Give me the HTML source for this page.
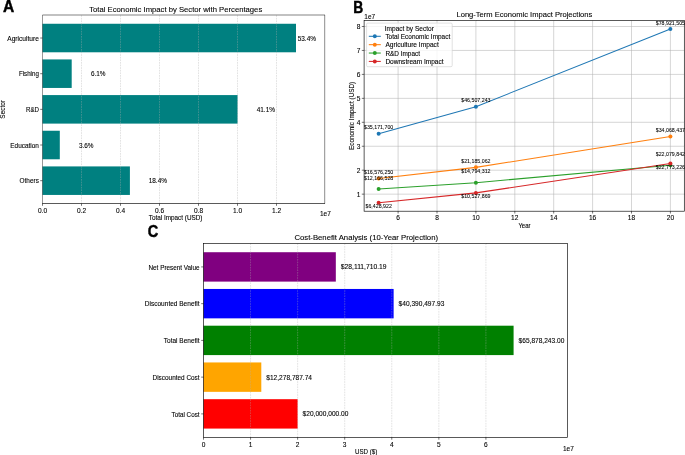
<!DOCTYPE html>
<html><head><meta charset="utf-8"><title>Economic Impact Analysis</title>
<style>
html,body{margin:0;padding:0;background:#fff;width:685px;height:455px;overflow:hidden;}
svg{display:block;font-family:"Liberation Sans", sans-serif;}
text{stroke:#000;stroke-width:0.1px;}
text.L{stroke-width:0.45px;}
text.s{stroke-width:0.06px;}
</style></head>
<body>
<svg width="685" height="455" viewBox="0 0 685 455">
<defs><filter id="bl" x="0" y="0" width="100%" height="100%"><feGaussianBlur stdDeviation="0.3"/></filter></defs>
<rect x="0" y="0" width="685" height="455" fill="#fff"/>
<g filter="url(#bl)">
<rect x="42.50" y="23.76" width="253.50" height="28.53" fill="#008080"/>
<rect x="42.50" y="59.42" width="29.20" height="28.53" fill="#008080"/>
<rect x="42.50" y="95.08" width="195.10" height="28.53" fill="#008080"/>
<rect x="42.50" y="130.75" width="17.30" height="28.53" fill="#008080"/>
<rect x="42.50" y="166.41" width="87.40" height="28.53" fill="#008080"/>
<line x1="81.50" y1="15.20" x2="81.50" y2="203.50" stroke="#b0b0b0" stroke-width="0.5" stroke-dasharray="1.7 0.9" stroke-opacity="0.7"/>
<line x1="120.50" y1="15.20" x2="120.50" y2="203.50" stroke="#b0b0b0" stroke-width="0.5" stroke-dasharray="1.7 0.9" stroke-opacity="0.7"/>
<line x1="159.50" y1="15.20" x2="159.50" y2="203.50" stroke="#b0b0b0" stroke-width="0.5" stroke-dasharray="1.7 0.9" stroke-opacity="0.7"/>
<line x1="198.50" y1="15.20" x2="198.50" y2="203.50" stroke="#b0b0b0" stroke-width="0.5" stroke-dasharray="1.7 0.9" stroke-opacity="0.7"/>
<line x1="237.50" y1="15.20" x2="237.50" y2="203.50" stroke="#b0b0b0" stroke-width="0.5" stroke-dasharray="1.7 0.9" stroke-opacity="0.7"/>
<line x1="276.50" y1="15.20" x2="276.50" y2="203.50" stroke="#b0b0b0" stroke-width="0.5" stroke-dasharray="1.7 0.9" stroke-opacity="0.7"/>
<line x1="42.50" y1="15.00" x2="325.00" y2="15.00" stroke="#000" stroke-width="0.9" stroke-opacity="0.55"/>
<line x1="42.50" y1="15.00" x2="42.50" y2="203.50" stroke="#000" stroke-width="0.9" stroke-opacity="0.45"/>
<line x1="324.70" y1="15.00" x2="324.70" y2="203.50" stroke="#000" stroke-width="0.9" stroke-opacity="0.5"/>
<line x1="42.20" y1="203.50" x2="325.00" y2="203.50" stroke="#000" stroke-width="0.65"/>
<line x1="40.20" y1="38.02" x2="42.50" y2="38.02" stroke="#000" stroke-width="0.55"/>
<text x="38.90" y="41.00" font-size="6.383" text-anchor="end" fill="#000" textLength="31.62" lengthAdjust="spacingAndGlyphs">Agriculture</text>
<line x1="40.20" y1="73.69" x2="42.50" y2="73.69" stroke="#000" stroke-width="0.55"/>
<text x="38.90" y="76.00" font-size="6.383" text-anchor="end" fill="#000" textLength="20.02" lengthAdjust="spacingAndGlyphs">Fishing</text>
<line x1="40.20" y1="109.35" x2="42.50" y2="109.35" stroke="#000" stroke-width="0.55"/>
<text x="38.90" y="112.00" font-size="6.383" text-anchor="end" fill="#000" textLength="12.91" lengthAdjust="spacingAndGlyphs">R&amp;D</text>
<line x1="40.20" y1="145.01" x2="42.50" y2="145.01" stroke="#000" stroke-width="0.55"/>
<text x="38.90" y="148.00" font-size="6.383" text-anchor="end" fill="#000" textLength="28.63" lengthAdjust="spacingAndGlyphs">Education</text>
<line x1="40.20" y1="180.68" x2="42.50" y2="180.68" stroke="#000" stroke-width="0.55"/>
<text x="38.90" y="183.00" font-size="6.383" text-anchor="end" fill="#000" textLength="19.32" lengthAdjust="spacingAndGlyphs">Others</text>
<line x1="42.50" y1="203.50" x2="42.50" y2="205.80" stroke="#000" stroke-width="0.55"/>
<text x="42.50" y="213.00" font-size="6.383" text-anchor="middle" fill="#000" textLength="9.14" lengthAdjust="spacingAndGlyphs">0.0</text>
<line x1="81.50" y1="203.50" x2="81.50" y2="205.80" stroke="#000" stroke-width="0.55"/>
<text x="81.50" y="213.00" font-size="6.383" text-anchor="middle" fill="#000" textLength="9.14" lengthAdjust="spacingAndGlyphs">0.2</text>
<line x1="120.50" y1="203.50" x2="120.50" y2="205.80" stroke="#000" stroke-width="0.55"/>
<text x="120.50" y="213.00" font-size="6.383" text-anchor="middle" fill="#000" textLength="9.14" lengthAdjust="spacingAndGlyphs">0.4</text>
<line x1="159.50" y1="203.50" x2="159.50" y2="205.80" stroke="#000" stroke-width="0.55"/>
<text x="159.50" y="213.00" font-size="6.383" text-anchor="middle" fill="#000" textLength="9.14" lengthAdjust="spacingAndGlyphs">0.6</text>
<line x1="198.50" y1="203.50" x2="198.50" y2="205.80" stroke="#000" stroke-width="0.55"/>
<text x="198.50" y="213.00" font-size="6.383" text-anchor="middle" fill="#000" textLength="9.14" lengthAdjust="spacingAndGlyphs">0.8</text>
<line x1="237.50" y1="203.50" x2="237.50" y2="205.80" stroke="#000" stroke-width="0.55"/>
<text x="237.50" y="213.00" font-size="6.383" text-anchor="middle" fill="#000" textLength="9.14" lengthAdjust="spacingAndGlyphs">1.0</text>
<line x1="276.50" y1="203.50" x2="276.50" y2="205.80" stroke="#000" stroke-width="0.55"/>
<text x="276.50" y="213.00" font-size="6.383" text-anchor="middle" fill="#000" textLength="9.14" lengthAdjust="spacingAndGlyphs">1.2</text>
<text x="320.00" y="216.00" font-size="6.383" text-anchor="start" fill="#000" textLength="10.85" lengthAdjust="spacingAndGlyphs">1e7</text>
<text x="175.60" y="220.00" font-size="6.383" text-anchor="middle" fill="#000" textLength="53.74" lengthAdjust="spacingAndGlyphs">Total Impact (USD)</text>
<text x="3.00" y="111.69" font-size="6.383" text-anchor="middle" fill="#000" textLength="18.49" lengthAdjust="spacingAndGlyphs" transform="rotate(-90 3.00 109.40)">Sector</text>
<text x="175.75" y="12.00" font-size="7.604" text-anchor="middle" fill="#000" textLength="172.98" lengthAdjust="spacingAndGlyphs">Total Economic Impact by Sector with Percentages</text>
<text x="297.70" y="41.00" font-size="6.383" text-anchor="start" fill="#000" textLength="18.27" lengthAdjust="spacingAndGlyphs">53.4%</text>
<text x="90.90" y="76.00" font-size="6.383" text-anchor="start" fill="#000" textLength="14.61" lengthAdjust="spacingAndGlyphs">6.1%</text>
<text x="256.70" y="112.00" font-size="6.383" text-anchor="start" fill="#000" textLength="18.27" lengthAdjust="spacingAndGlyphs">41.1%</text>
<text x="78.90" y="148.00" font-size="6.383" text-anchor="start" fill="#000" textLength="14.61" lengthAdjust="spacingAndGlyphs">3.6%</text>
<text x="148.70" y="183.00" font-size="6.383" text-anchor="start" fill="#000" textLength="18.27" lengthAdjust="spacingAndGlyphs">18.4%</text>
<text x="3.00" y="12.33" font-size="16.0" text-anchor="start" fill="#000" textLength="11.20" lengthAdjust="spacingAndGlyphs" font-weight="bold" class="L">A</text>
<line x1="398.10" y1="20.60" x2="398.10" y2="211.20" stroke="#b0b0b0" stroke-width="0.7" stroke-opacity="0.75"/>
<line x1="437.00" y1="20.60" x2="437.00" y2="211.20" stroke="#b0b0b0" stroke-width="0.7" stroke-opacity="0.75"/>
<line x1="475.90" y1="20.60" x2="475.90" y2="211.20" stroke="#b0b0b0" stroke-width="0.7" stroke-opacity="0.75"/>
<line x1="514.80" y1="20.60" x2="514.80" y2="211.20" stroke="#b0b0b0" stroke-width="0.7" stroke-opacity="0.75"/>
<line x1="553.70" y1="20.60" x2="553.70" y2="211.20" stroke="#b0b0b0" stroke-width="0.7" stroke-opacity="0.75"/>
<line x1="592.60" y1="20.60" x2="592.60" y2="211.20" stroke="#b0b0b0" stroke-width="0.7" stroke-opacity="0.75"/>
<line x1="631.50" y1="20.60" x2="631.50" y2="211.20" stroke="#b0b0b0" stroke-width="0.7" stroke-opacity="0.75"/>
<line x1="670.40" y1="20.60" x2="670.40" y2="211.20" stroke="#b0b0b0" stroke-width="0.7" stroke-opacity="0.75"/>
<line x1="364.10" y1="194.15" x2="684.30" y2="194.15" stroke="#b0b0b0" stroke-width="0.7" stroke-opacity="0.75"/>
<line x1="364.10" y1="170.20" x2="684.30" y2="170.20" stroke="#b0b0b0" stroke-width="0.7" stroke-opacity="0.75"/>
<line x1="364.10" y1="146.25" x2="684.30" y2="146.25" stroke="#b0b0b0" stroke-width="0.7" stroke-opacity="0.75"/>
<line x1="364.10" y1="122.30" x2="684.30" y2="122.30" stroke="#b0b0b0" stroke-width="0.7" stroke-opacity="0.75"/>
<line x1="364.10" y1="98.35" x2="684.30" y2="98.35" stroke="#b0b0b0" stroke-width="0.7" stroke-opacity="0.75"/>
<line x1="364.10" y1="74.40" x2="684.30" y2="74.40" stroke="#b0b0b0" stroke-width="0.7" stroke-opacity="0.75"/>
<line x1="364.10" y1="50.45" x2="684.30" y2="50.45" stroke="#b0b0b0" stroke-width="0.7" stroke-opacity="0.75"/>
<line x1="364.10" y1="26.50" x2="684.30" y2="26.50" stroke="#b0b0b0" stroke-width="0.7" stroke-opacity="0.75"/>
<path d="M378.65,133.86 L475.90,106.72 L670.40,29.08" fill="none" stroke="#1f77b4" stroke-width="1.05" stroke-linejoin="round"/>
<circle cx="378.65" cy="133.86" r="2.0" fill="#1f77b4"/>
<circle cx="475.90" cy="106.72" r="2.0" fill="#1f77b4"/>
<circle cx="670.40" cy="29.08" r="2.0" fill="#1f77b4"/>
<path d="M378.65,178.40 L475.90,167.36 L670.40,136.51" fill="none" stroke="#ff7f0e" stroke-width="1.05" stroke-linejoin="round"/>
<circle cx="378.65" cy="178.40" r="2.0" fill="#ff7f0e"/>
<circle cx="475.90" cy="167.36" r="2.0" fill="#ff7f0e"/>
<circle cx="670.40" cy="136.51" r="2.0" fill="#ff7f0e"/>
<path d="M378.65,188.96 L475.90,182.67 L670.40,165.22" fill="none" stroke="#2ca02c" stroke-width="1.05" stroke-linejoin="round"/>
<circle cx="378.65" cy="188.96" r="2.0" fill="#2ca02c"/>
<circle cx="475.90" cy="182.67" r="2.0" fill="#2ca02c"/>
<circle cx="670.40" cy="165.22" r="2.0" fill="#2ca02c"/>
<path d="M378.65,202.70 L475.90,192.89 L670.40,163.56" fill="none" stroke="#d62728" stroke-width="1.05" stroke-linejoin="round"/>
<circle cx="378.65" cy="202.70" r="2.0" fill="#d62728"/>
<circle cx="475.90" cy="192.89" r="2.0" fill="#d62728"/>
<circle cx="670.40" cy="163.56" r="2.0" fill="#d62728"/>
<rect x="364.10" y="20.60" width="320.20" height="190.60" fill="none" stroke="#000" stroke-width="0.65"/>
<line x1="398.10" y1="211.20" x2="398.10" y2="213.50" stroke="#000" stroke-width="0.55"/>
<text x="398.10" y="220.00" font-size="6.383" text-anchor="middle" fill="#000" textLength="3.66" lengthAdjust="spacingAndGlyphs">6</text>
<line x1="437.00" y1="211.20" x2="437.00" y2="213.50" stroke="#000" stroke-width="0.55"/>
<text x="437.00" y="220.00" font-size="6.383" text-anchor="middle" fill="#000" textLength="3.66" lengthAdjust="spacingAndGlyphs">8</text>
<line x1="475.90" y1="211.20" x2="475.90" y2="213.50" stroke="#000" stroke-width="0.55"/>
<text x="475.90" y="220.00" font-size="6.383" text-anchor="middle" fill="#000" textLength="7.32" lengthAdjust="spacingAndGlyphs">10</text>
<line x1="514.80" y1="211.20" x2="514.80" y2="213.50" stroke="#000" stroke-width="0.55"/>
<text x="514.80" y="220.00" font-size="6.383" text-anchor="middle" fill="#000" textLength="7.32" lengthAdjust="spacingAndGlyphs">12</text>
<line x1="553.70" y1="211.20" x2="553.70" y2="213.50" stroke="#000" stroke-width="0.55"/>
<text x="553.70" y="220.00" font-size="6.383" text-anchor="middle" fill="#000" textLength="7.32" lengthAdjust="spacingAndGlyphs">14</text>
<line x1="592.60" y1="211.20" x2="592.60" y2="213.50" stroke="#000" stroke-width="0.55"/>
<text x="592.60" y="220.00" font-size="6.383" text-anchor="middle" fill="#000" textLength="7.32" lengthAdjust="spacingAndGlyphs">16</text>
<line x1="631.50" y1="211.20" x2="631.50" y2="213.50" stroke="#000" stroke-width="0.55"/>
<text x="631.50" y="220.00" font-size="6.383" text-anchor="middle" fill="#000" textLength="7.32" lengthAdjust="spacingAndGlyphs">18</text>
<line x1="670.40" y1="211.20" x2="670.40" y2="213.50" stroke="#000" stroke-width="0.55"/>
<text x="670.40" y="220.00" font-size="6.383" text-anchor="middle" fill="#000" textLength="7.32" lengthAdjust="spacingAndGlyphs">20</text>
<line x1="361.80" y1="194.15" x2="364.10" y2="194.15" stroke="#000" stroke-width="0.55"/>
<text x="360.50" y="197.00" font-size="6.383" text-anchor="end" fill="#000" textLength="3.66" lengthAdjust="spacingAndGlyphs">1</text>
<line x1="361.80" y1="170.20" x2="364.10" y2="170.20" stroke="#000" stroke-width="0.55"/>
<text x="360.50" y="173.00" font-size="6.383" text-anchor="end" fill="#000" textLength="3.66" lengthAdjust="spacingAndGlyphs">2</text>
<line x1="361.80" y1="146.25" x2="364.10" y2="146.25" stroke="#000" stroke-width="0.55"/>
<text x="360.50" y="149.00" font-size="6.383" text-anchor="end" fill="#000" textLength="3.66" lengthAdjust="spacingAndGlyphs">3</text>
<line x1="361.80" y1="122.30" x2="364.10" y2="122.30" stroke="#000" stroke-width="0.55"/>
<text x="360.50" y="125.00" font-size="6.383" text-anchor="end" fill="#000" textLength="3.66" lengthAdjust="spacingAndGlyphs">4</text>
<line x1="361.80" y1="98.35" x2="364.10" y2="98.35" stroke="#000" stroke-width="0.55"/>
<text x="360.50" y="101.00" font-size="6.383" text-anchor="end" fill="#000" textLength="3.66" lengthAdjust="spacingAndGlyphs">5</text>
<line x1="361.80" y1="74.40" x2="364.10" y2="74.40" stroke="#000" stroke-width="0.55"/>
<text x="360.50" y="77.00" font-size="6.383" text-anchor="end" fill="#000" textLength="3.66" lengthAdjust="spacingAndGlyphs">6</text>
<line x1="361.80" y1="50.45" x2="364.10" y2="50.45" stroke="#000" stroke-width="0.55"/>
<text x="360.50" y="53.00" font-size="6.383" text-anchor="end" fill="#000" textLength="3.66" lengthAdjust="spacingAndGlyphs">7</text>
<line x1="361.80" y1="26.50" x2="364.10" y2="26.50" stroke="#000" stroke-width="0.55"/>
<text x="360.50" y="29.00" font-size="6.383" text-anchor="end" fill="#000" textLength="3.66" lengthAdjust="spacingAndGlyphs">8</text>
<text x="364.30" y="19.00" font-size="6.383" text-anchor="start" fill="#000" textLength="10.85" lengthAdjust="spacingAndGlyphs">1e7</text>
<text x="524.50" y="228.00" font-size="6.383" text-anchor="middle" fill="#000" textLength="12.17" lengthAdjust="spacingAndGlyphs">Year</text>
<text x="524.40" y="17.00" font-size="7.604" text-anchor="middle" fill="#000" textLength="135.85" lengthAdjust="spacingAndGlyphs">Long-Term Economic Impact Projections</text>
<text x="351.50" y="118.19" font-size="6.383" text-anchor="middle" fill="#000" textLength="68.15" lengthAdjust="spacingAndGlyphs" transform="rotate(-90 351.50 115.90)">Economic Impact (USD)</text>
<text x="378.65" y="129.00" font-size="5.106" text-anchor="middle" fill="#000" textLength="29.27" lengthAdjust="spacingAndGlyphs" class="s">$35,171,700</text>
<text x="475.90" y="102.00" font-size="5.106" text-anchor="middle" fill="#000" textLength="29.27" lengthAdjust="spacingAndGlyphs" class="s">$46,507,243</text>
<text x="670.40" y="25.00" font-size="5.106" text-anchor="middle" fill="#000" textLength="29.27" lengthAdjust="spacingAndGlyphs" class="s">$78,921,505</text>
<text x="378.65" y="174.00" font-size="5.106" text-anchor="middle" fill="#000" textLength="29.27" lengthAdjust="spacingAndGlyphs" class="s">$16,576,250</text>
<text x="475.90" y="163.00" font-size="5.106" text-anchor="middle" fill="#000" textLength="29.27" lengthAdjust="spacingAndGlyphs" class="s">$21,185,062</text>
<text x="670.40" y="132.00" font-size="5.106" text-anchor="middle" fill="#000" textLength="29.27" lengthAdjust="spacingAndGlyphs" class="s">$34,068,437</text>
<text x="378.65" y="180.00" font-size="5.106" text-anchor="middle" fill="#000" textLength="29.27" lengthAdjust="spacingAndGlyphs" class="s">$12,166,528</text>
<text x="475.90" y="173.00" font-size="5.106" text-anchor="middle" fill="#000" textLength="29.27" lengthAdjust="spacingAndGlyphs" class="s">$14,794,312</text>
<text x="670.40" y="156.00" font-size="5.106" text-anchor="middle" fill="#000" textLength="29.27" lengthAdjust="spacingAndGlyphs" class="s">$22,079,842</text>
<text x="378.65" y="208.00" font-size="5.106" text-anchor="middle" fill="#000" textLength="26.34" lengthAdjust="spacingAndGlyphs" class="s">$6,428,922</text>
<text x="475.90" y="198.00" font-size="5.106" text-anchor="middle" fill="#000" textLength="29.27" lengthAdjust="spacingAndGlyphs" class="s">$10,527,869</text>
<text x="670.40" y="169.00" font-size="5.106" text-anchor="middle" fill="#000" textLength="29.27" lengthAdjust="spacingAndGlyphs" class="s">$22,773,226</text>
<rect x="366.6" y="23.1" width="85.60" height="43.60" rx="1.2" fill="#fff" fill-opacity="0.8" stroke="#cccccc" stroke-width="0.6"/>
<text x="409.30" y="31.00" font-size="6.383" text-anchor="middle" fill="#000" textLength="49.08" lengthAdjust="spacingAndGlyphs">Impact by Sector</text>
<line x1="368.80" y1="36.30" x2="380.80" y2="36.30" stroke="#1f77b4" stroke-width="1.05"/>
<circle cx="374.8" cy="36.30" r="2.0" fill="#1f77b4"/>
<text x="385.40" y="39.00" font-size="6.383" text-anchor="start" fill="#000" textLength="64.81" lengthAdjust="spacingAndGlyphs">Total Economic Impact</text>
<line x1="368.80" y1="44.67" x2="380.80" y2="44.67" stroke="#ff7f0e" stroke-width="1.05"/>
<circle cx="374.8" cy="44.67" r="2.0" fill="#ff7f0e"/>
<text x="385.40" y="47.00" font-size="6.383" text-anchor="start" fill="#000" textLength="53.34" lengthAdjust="spacingAndGlyphs">Agriculture Impact</text>
<line x1="368.80" y1="53.04" x2="380.80" y2="53.04" stroke="#2ca02c" stroke-width="1.05"/>
<circle cx="374.8" cy="53.04" r="2.0" fill="#2ca02c"/>
<text x="385.40" y="56.00" font-size="6.383" text-anchor="start" fill="#000" textLength="34.62" lengthAdjust="spacingAndGlyphs">R&amp;D Impact</text>
<line x1="368.80" y1="61.41" x2="380.80" y2="61.41" stroke="#d62728" stroke-width="1.05"/>
<circle cx="374.8" cy="61.41" r="2.0" fill="#d62728"/>
<text x="385.40" y="64.00" font-size="6.383" text-anchor="start" fill="#000" textLength="58.16" lengthAdjust="spacingAndGlyphs">Downstream Impact</text>
<text x="353.30" y="12.63" font-size="16.0" text-anchor="start" fill="#000" textLength="10.00" lengthAdjust="spacingAndGlyphs" font-weight="bold" class="L">B</text>
<rect x="203.50" y="252.22" width="132.32" height="29.39" fill="#800080"/>
<rect x="203.50" y="288.96" width="190.12" height="29.39" fill="#0000ff"/>
<rect x="203.50" y="325.70" width="310.09" height="29.39" fill="#008000"/>
<rect x="203.50" y="362.45" width="57.80" height="29.39" fill="#ffa500"/>
<rect x="203.50" y="399.19" width="94.14" height="29.39" fill="#ff0000"/>
<line x1="250.57" y1="243.40" x2="250.57" y2="437.40" stroke="#b0b0b0" stroke-width="0.5" stroke-dasharray="1.7 0.9" stroke-opacity="0.7"/>
<line x1="297.64" y1="243.40" x2="297.64" y2="437.40" stroke="#b0b0b0" stroke-width="0.5" stroke-dasharray="1.7 0.9" stroke-opacity="0.7"/>
<line x1="344.71" y1="243.40" x2="344.71" y2="437.40" stroke="#b0b0b0" stroke-width="0.5" stroke-dasharray="1.7 0.9" stroke-opacity="0.7"/>
<line x1="391.78" y1="243.40" x2="391.78" y2="437.40" stroke="#b0b0b0" stroke-width="0.5" stroke-dasharray="1.7 0.9" stroke-opacity="0.7"/>
<line x1="438.85" y1="243.40" x2="438.85" y2="437.40" stroke="#b0b0b0" stroke-width="0.5" stroke-dasharray="1.7 0.9" stroke-opacity="0.7"/>
<line x1="485.92" y1="243.40" x2="485.92" y2="437.40" stroke="#b0b0b0" stroke-width="0.5" stroke-dasharray="1.7 0.9" stroke-opacity="0.7"/>
<rect x="203.50" y="243.40" width="363.90" height="194.00" fill="none" stroke="#000" stroke-width="0.65"/>
<line x1="201.20" y1="266.92" x2="203.50" y2="266.92" stroke="#000" stroke-width="0.55"/>
<text x="199.60" y="270.00" font-size="6.383" text-anchor="end" fill="#000" textLength="51.11" lengthAdjust="spacingAndGlyphs">Net Present Value</text>
<line x1="201.20" y1="303.66" x2="203.50" y2="303.66" stroke="#000" stroke-width="0.55"/>
<text x="199.60" y="306.00" font-size="6.383" text-anchor="end" fill="#000" textLength="54.80" lengthAdjust="spacingAndGlyphs">Discounted Benefit</text>
<line x1="201.20" y1="340.40" x2="203.50" y2="340.40" stroke="#000" stroke-width="0.55"/>
<text x="199.60" y="343.00" font-size="6.383" text-anchor="end" fill="#000" textLength="35.80" lengthAdjust="spacingAndGlyphs">Total Benefit</text>
<line x1="201.20" y1="377.14" x2="203.50" y2="377.14" stroke="#000" stroke-width="0.55"/>
<text x="199.60" y="380.00" font-size="6.383" text-anchor="end" fill="#000" textLength="47.04" lengthAdjust="spacingAndGlyphs">Discounted Cost</text>
<line x1="201.20" y1="413.88" x2="203.50" y2="413.88" stroke="#000" stroke-width="0.55"/>
<text x="199.60" y="417.00" font-size="6.383" text-anchor="end" fill="#000" textLength="28.04" lengthAdjust="spacingAndGlyphs">Total Cost</text>
<line x1="203.50" y1="437.40" x2="203.50" y2="439.70" stroke="#000" stroke-width="0.55"/>
<text x="203.50" y="447.00" font-size="6.383" text-anchor="middle" fill="#000" textLength="3.66" lengthAdjust="spacingAndGlyphs">0</text>
<line x1="250.57" y1="437.40" x2="250.57" y2="439.70" stroke="#000" stroke-width="0.55"/>
<text x="250.57" y="447.00" font-size="6.383" text-anchor="middle" fill="#000" textLength="3.66" lengthAdjust="spacingAndGlyphs">1</text>
<line x1="297.64" y1="437.40" x2="297.64" y2="439.70" stroke="#000" stroke-width="0.55"/>
<text x="297.64" y="447.00" font-size="6.383" text-anchor="middle" fill="#000" textLength="3.66" lengthAdjust="spacingAndGlyphs">2</text>
<line x1="344.71" y1="437.40" x2="344.71" y2="439.70" stroke="#000" stroke-width="0.55"/>
<text x="344.71" y="447.00" font-size="6.383" text-anchor="middle" fill="#000" textLength="3.66" lengthAdjust="spacingAndGlyphs">3</text>
<line x1="391.78" y1="437.40" x2="391.78" y2="439.70" stroke="#000" stroke-width="0.55"/>
<text x="391.78" y="447.00" font-size="6.383" text-anchor="middle" fill="#000" textLength="3.66" lengthAdjust="spacingAndGlyphs">4</text>
<line x1="438.85" y1="437.40" x2="438.85" y2="439.70" stroke="#000" stroke-width="0.55"/>
<text x="438.85" y="447.00" font-size="6.383" text-anchor="middle" fill="#000" textLength="3.66" lengthAdjust="spacingAndGlyphs">5</text>
<line x1="485.92" y1="437.40" x2="485.92" y2="439.70" stroke="#000" stroke-width="0.55"/>
<text x="485.92" y="447.00" font-size="6.383" text-anchor="middle" fill="#000" textLength="3.66" lengthAdjust="spacingAndGlyphs">6</text>
<text x="340.82" y="269.00" font-size="6.383" text-anchor="start" fill="#000" textLength="45.73" lengthAdjust="spacingAndGlyphs">$28,111,710.19</text>
<text x="398.62" y="306.00" font-size="6.383" text-anchor="start" fill="#000" textLength="45.73" lengthAdjust="spacingAndGlyphs">$40,390,497.93</text>
<text x="518.59" y="343.00" font-size="6.383" text-anchor="start" fill="#000" textLength="45.73" lengthAdjust="spacingAndGlyphs">$65,878,243.00</text>
<text x="266.30" y="380.00" font-size="6.383" text-anchor="start" fill="#000" textLength="45.73" lengthAdjust="spacingAndGlyphs">$12,278,787.74</text>
<text x="302.64" y="416.00" font-size="6.383" text-anchor="start" fill="#000" textLength="45.73" lengthAdjust="spacingAndGlyphs">$20,000,000.00</text>
<text x="563.00" y="451.00" font-size="6.383" text-anchor="start" fill="#000" textLength="10.85" lengthAdjust="spacingAndGlyphs">1e7</text>
<text x="366.20" y="454.00" font-size="6.383" text-anchor="middle" fill="#000" textLength="22.26" lengthAdjust="spacingAndGlyphs">USD ($)</text>
<text x="366.25" y="240.00" font-size="7.604" text-anchor="middle" fill="#000" textLength="143.60" lengthAdjust="spacingAndGlyphs">Cost-Benefit Analysis (10-Year Projection)</text>
<text x="147.80" y="237.13" font-size="16.0" text-anchor="start" fill="#000" textLength="10.50" lengthAdjust="spacingAndGlyphs" font-weight="bold" class="L">C</text>
</g>
</svg>
</body></html>
